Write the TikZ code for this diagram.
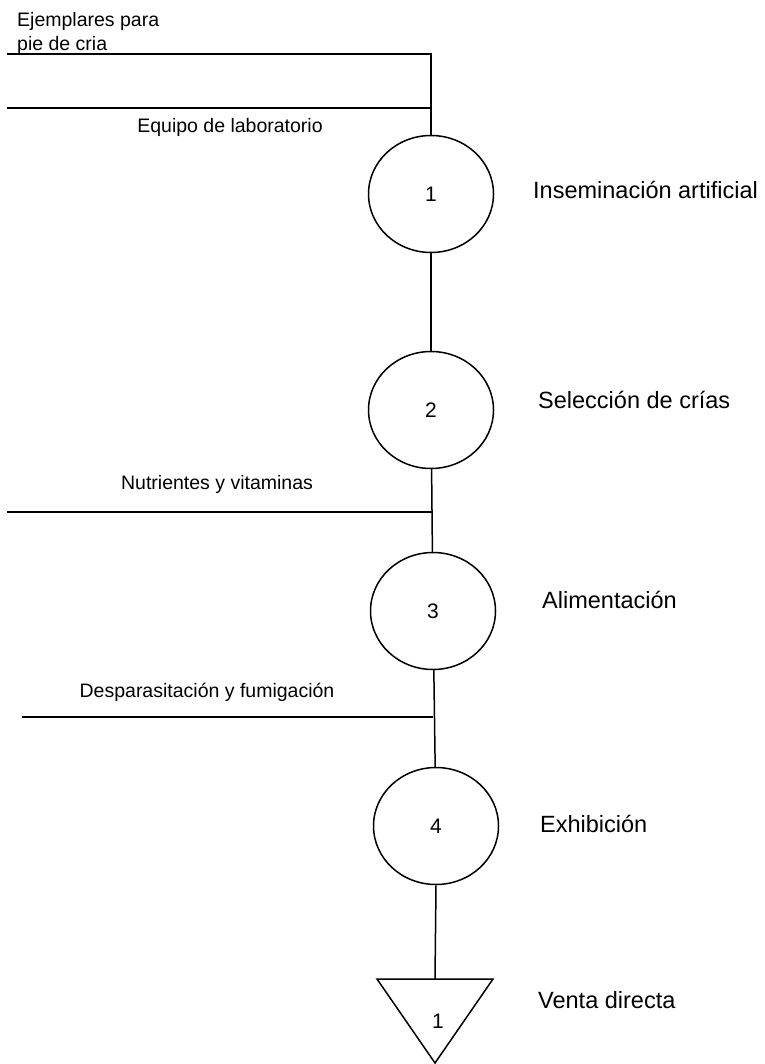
\documentclass[tikz,border=0pt]{standalone}
\usepackage{fontspec}
\setmainfont{Liberation Sans}
\usetikzlibrary{shapes.geometric}

\tikzset{
  etapa/.style={draw, ellipse, line width=1.5pt, minimum width=125pt, minimum height=117pt, inner sep=0pt, font=\fontsize{21}{25}\selectfont},
  chico/.style={inner sep=0pt, font=\fontsize{19.5}{24}\selectfont},
  grande/.style={inner sep=0pt, anchor=base west, font=\fontsize{23.5}{28}\selectfont},
  linea/.style={line width=1.5pt}
}

\begin{document}
\begin{tikzpicture}[x=1pt, y=-1pt]
        \useasboundingbox (0,0) rectangle (764,1064);
        \node (c1) [etapa] at (431,194) {1};
        \node (c2) [etapa] at (431,410) {2};
        \node (c3) [etapa] at (433,611) {3};
        \node (c4) [etapa] at (436,826) {4};
        \coordinate (v1) at (435,979);
        \draw[linea] (377,979) -- (493,979) -- (435,1063) -- cycle;
        \node (t1) [inner sep=0pt, font=\fontsize{21}{25}\selectfont] at (438,1021) {1};
        \coordinate (ent1) at (7,54);
        \coordinate (ent2) at (7,108);
        \coordinate (ent3) at (7,512);
        \coordinate (ent4) at (22,717);
        \draw[linea] (ent1) -- (ent1 -| c1.north) -- (c1.north);
        \draw[linea] (ent2) -- (ent2 -| c1.north);
        \draw[linea] (c1) -- (c2);
        \draw[linea] (c2) -- (c3);
        \draw[linea] (ent3) -- (ent3 -| c3.north);
        \draw[linea] (c3) -- (c4);
        \draw[linea] (ent4) -- (ent4 -| c3.south);
        \draw[linea] (c4.south) -- (v1);
        \node (l1) [chico, anchor=north west, align=left] at (17,12) {Ejemplares para\\pie de cria};
        \node (l2) [chico, anchor=base] at (230,133) {Equipo de laboratorio};
        \node (l3) [chico, anchor=base] at (217,489) {Nutrientes y vitaminas};
        \node (l4) [chico, anchor=base] at (207,697) {Desparasitación y fumigación};
        \node (r1) [grande] at (533,199) {Inseminación artificial};
        \node (r2) [grande] at (538,408) {Selección de crías};
        \node (r3) [grande] at (542,608) {Alimentación};
        \node (r4) [grande] at (540,832) {Exhibición};
        \node (r5) [grande] at (538,1008) {Venta directa};
    \end{tikzpicture}
\end{document}
